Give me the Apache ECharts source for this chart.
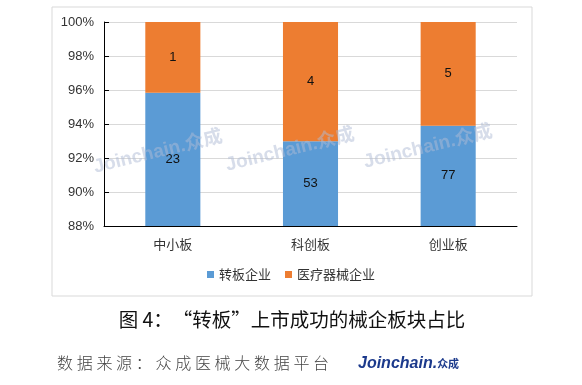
<!DOCTYPE html>
<html><head><meta charset="utf-8">
<script src="https://cdn.jsdelivr.net/npm/echarts@6/dist/echarts.min.js"></script>
<style>html,body{margin:0;padding:0;background:#fff}#c{width:582px;height:385px}</style>
</head><body><div id="c"></div>
<script>
var categories = ['中小板', '科创板', '创业板'];
var seriesNames = ['转板企业', '医疗器械企业'];
var transferCounts = [23, 53, 77];
var deviceCounts = [1, 4, 5];
var yTicks = [88, 90, 92, 94, 96, 98, 100];
var titleText = '图 4：“转板”上市成功的械企板块占比';
var sourceText = '数据来源：众成医械大数据平台';

var totals = transferCounts.map(function (v, i) { return v + deviceCounts[i]; });
var transferPct = transferCounts.map(function (v, i) { return v / totals[i] * 100; });
var devicePct = deviceCounts.map(function (v, i) { return v / totals[i] * 100; });

var font = '"Noto Sans CJK SC", "Microsoft YaHei", sans-serif';
var chart = echarts.init(document.getElementById('c'));
function wm(x, y) {
  return { type: 'text', x: x, y: y, rotation: 0.24, z: 100, silent: true,
    style: { text: 'Joinchain.众成', fill: 'rgba(175,187,214,0.5)', font: 'bold 19px Arial, "Noto Sans CJK SC"', align: 'center', verticalAlign: 'middle' } };
}
var graphics = [
  { type: 'rect', shape: { x: 52, y: 7, width: 480, height: 289 }, z: -1,
    style: { fill: 'none', stroke: '#d9d9d9', lineWidth: 1 } },
  wm(158, 152), wm(290, 150), wm(428, 147),
  { type: 'text', x: 292, y: 320, style: { text: titleText, font: '19.5px ' + font, fill: '#111', align: 'center', verticalAlign: 'middle' } },
  { type: 'text', x: 358, y: 364, style: {
      text: '{a|Joinchain.}{b|众成}', align: 'left', verticalAlign: 'middle',
      rich: { a: { font: 'italic bold 16px Arial, sans-serif', fill: '#1c3a8c', fontStyle: 'italic', fontWeight: 'bold', fontSize: 16, fontFamily: 'Arial' },
              b: { fontSize: 11, fontWeight: 'bold', fontFamily: font, fill: '#1c3a8c' } } } }
];
sourceText.split('').forEach(function (ch, i) {
  graphics.push({ type: 'text', x: 57 + i * 19.7 + 8, y: 363,
    style: { text: ch, font: '300 16px ' + font, fill: '#444', align: 'center', verticalAlign: 'middle' } });
});
chart.setOption({
  animation: false,
  textStyle: { fontFamily: font },
  grid: { left: 104, right: 65, top: 22, bottom: 159 },
  legend: {
    data: seriesNames, bottom: 99, left: 'center', itemWidth: 7, itemHeight: 7, itemGap: 14,
    icon: 'rect', textStyle: { fontSize: 13, color: '#333', fontFamily: font }
  },
  xAxis: {
    type: 'category', data: categories,
    axisLine: { lineStyle: { color: '#000', width: 1 } }, axisTick: { show: false },
    axisLabel: { fontSize: 13, color: '#333', margin: 12, fontFamily: font }
  },
  yAxis: {
    type: 'value', min: yTicks[0], max: yTicks[yTicks.length - 1], interval: 2,
    axisLine: { show: true, lineStyle: { color: '#000' } },
    axisTick: { show: true, length: 5, inside: true, lineStyle: { color: '#000' } },
    splitLine: { lineStyle: { color: '#d9d9d9' } },
    axisLabel: { formatter: '{value}%', fontSize: 13, color: '#333', margin: 10, fontFamily: 'Arial, sans-serif' }
  },
  series: [
    { name: seriesNames[0], type: 'bar', stack: 's', barWidth: '40%', data: transferPct,
      itemStyle: { color: '#5B9BD5' },
      label: { show: true, position: 'inside', color: '#111', fontSize: 13, fontFamily: 'Arial, sans-serif',
        formatter: function (p) { return transferCounts[p.dataIndex]; } } },
    { name: seriesNames[1], type: 'bar', stack: 's', data: devicePct,
      itemStyle: { color: '#ED7D31' },
      label: { show: true, position: 'inside', color: '#111', fontSize: 13, fontFamily: 'Arial, sans-serif',
        formatter: function (p) { return deviceCounts[p.dataIndex]; } } }
  ],
  graphic: graphics
});
</script></body></html>
